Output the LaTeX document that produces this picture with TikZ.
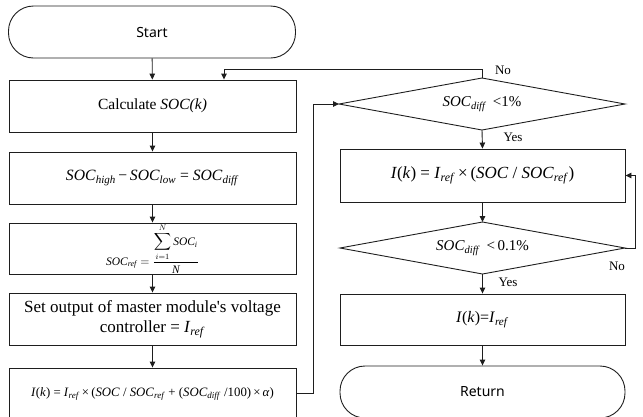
\documentclass[tikz,border=0pt]{standalone}
\usepackage{amsmath}
\usepackage{fontspec}
\setmainfont{Liberation Serif}
\newfontfamily\sansf{Noto Sans}
\usetikzlibrary{arrows.meta}
\definecolor{lc}{RGB}{30,30,30}
\newcommand{\vsub}[1]{\textsubscript{\textit{#1}}}
\newcommand{\vSOC}{\textit{SOC}}
\begin{document}
\begin{tikzpicture}[x=1pt,y=-1pt,
  line/.style={draw=lc, line width=0.9pt},
  box/.style={line, rectangle, minimum width=287pt, minimum height=52pt, inner sep=0pt, align=center, font=\fontsize{15.5}{20}\selectfont},
  term/.style={box, rounded corners=25pt, font=\sansf\fontsize{14}{17}\selectfont},
  dtext/.style={inner sep=0pt, font=\fontsize{15}{18}\selectfont},
  arr/.style={line, -{Triangle[length=6pt,width=5.5pt]}},
  lbl/.style={inner sep=0pt, font=\fontsize{13}{15}\selectfont}
]
\useasboundingbox (0,0) rectangle (643,416);
\clip (0,0) rectangle (643,416);

% left column
\node[term] (start) at (152,32) {Start};
\node[box] (calc) at (152.5,106) {Calculate \textit{SOC(k)}};
\node[box, font=\fontsize{15.7}{20}\selectfont] (diff) at (152.5,178) {\raisebox{-5pt}{\vSOC\vsub{high}\,−\,\vSOC\vsub{low} = \vSOC\vsub{diff}}};
\node[box, minimum height=51pt] (ref) at (152.5,248.5) {\fontsize{11.5}{14}\selectfont\raisebox{-4pt}{$\textit{SOC}_{\textit{ref}} = \dfrac{\displaystyle\sum_{i=1}^{N}\textit{SOC}_{\textit{i}}}{\textit{N}}$}};
\node[box, font=\fontsize{17}{20}\selectfont] (set) at (152.5,319) {\raisebox{-3pt}{Set output of master module\textquotesingle s voltage}\\\raisebox{-3pt}{controller = \textit{I}\vsub{ref}}};
\node[box, font=\fontsize{12.8}{15}\selectfont] (ik) at (152.5,394) {\textit{I}(\textit{k}) = \textit{I}\vsub{ref}\,×\,(\vSOC\ /\ \vSOC\vsub{ref} + (\vSOC\vsub{diff}\ /100)\,×\,\textit{α})};

% right column: decision 1
\coordinate (d1n) at (482,78);
\coordinate (d1s) at (482,130);
\coordinate (d1w) at (339,104);
\coordinate (d1e) at (625,104);
\draw[line] (d1n) -- (d1e) -- (d1s) -- (d1w) -- cycle;
\node[dtext] (d1) at (482,104) {\vSOC\vsub{diff}\ \,<1\%};

\node[box, minimum width=285pt, minimum height=53pt, font=\fontsize{17}{20}\selectfont] (ik2) at (482.5,175.5) {\textit{I}(\textit{k}) = \textit{I}\vsub{ref}\,×\,(\vSOC\ /\ \vSOC\vsub{ref})};

% decision 2
\coordinate (d2n) at (482.5,222);
\coordinate (d2s) at (482.5,274);
\coordinate (d2w) at (340,248);
\coordinate (d2e) at (625,248);
\draw[line] (d2n) -- (d2e) -- (d2s) -- (d2w) -- cycle;
\node[dtext] (d2) at (482.5,248) {\vSOC\vsub{diff}\ \,<\,0.1\%};

\node[box, minimum width=285pt, minimum height=51pt, font=\fontsize{16}{18}\selectfont] (ik3) at (482.5,319.5) {\textit{I}(\textit{k})=\textit{I}\vsub{ref}};
\node[term, minimum width=285pt] (ret) at (482.5,392) {Return};

% connectors left
\draw[arr] (start) -- (calc);
\draw[arr] (calc) -- (diff);
\draw[arr] (diff) -- (ref);
\draw[arr] (ref) -- (set);
\draw[arr] (set) -- (ik);
\coordinate (c1) at (313,393);
\draw[arr] (ik.east |- c1) -- (c1) |- (d1w);

% connectors right
\coordinate (c2) at (224,69);
\draw[arr] (d1n) -- (d1n |- c2) -- (c2) -- (c2 |- calc.north);
\draw[arr] (d1s) -- (ik2.north);
\draw[arr] (ik2.south) -- (d2n);
\coordinate (c3) at (635,248);
\draw[arr] (d2e) -- (c3) |- (ik2.east);
\draw[arr] (d2s) -- (ik3.north);
\draw[arr] (ik3.south) -- (ret.north);

% labels
\node[lbl] (no1) at (503,70) {No};
\node[lbl] (yes1) at (513,137) {Yes};
\node[lbl] (no2) at (617,266) {No};
\node[lbl] (yes2) at (508,282) {Yes};
\end{tikzpicture}
\end{document}
